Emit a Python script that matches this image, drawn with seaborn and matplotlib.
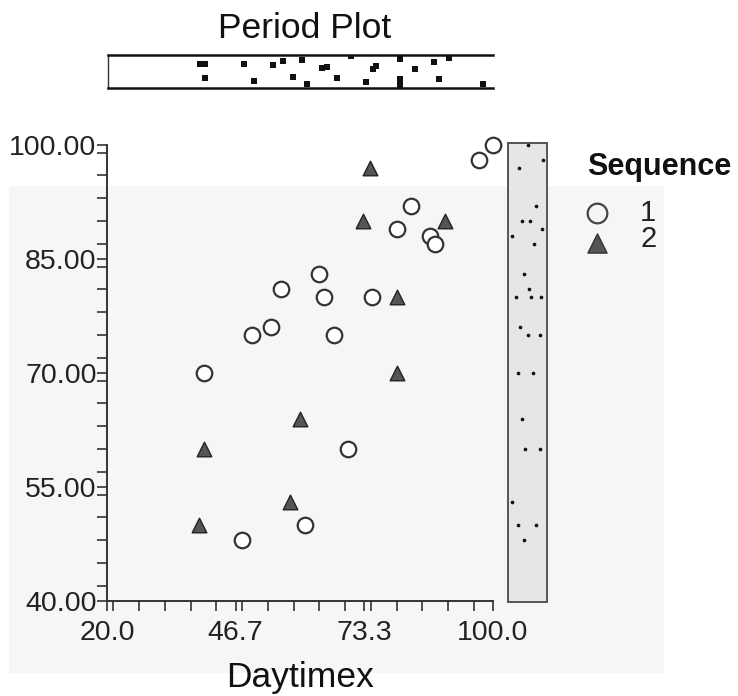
import numpy as np
import pandas as pd
import matplotlib
matplotlib.use("Agg")
import matplotlib.pyplot as plt
from matplotlib.patches import Rectangle
from matplotlib.ticker import FixedLocator, MultipleLocator
import seaborn as sns

# ---------------- data ----------------
seq1_x = [100, 97, 83, 80, 87, 88, 64, 56, 65, 75, 54, 50, 67, 40, 70, 61, 48]
seq1_y = [100, 98, 92, 89, 88, 87, 83, 81, 80, 80, 76, 75, 75, 70, 60, 50, 48]
seq2_x = [74.5, 73, 90, 80, 80, 60, 40, 58, 39]
seq2_y = [97, 90, 90, 80, 70, 64, 60, 53, 50]

# jitter read from the marginal strips (fraction across each strip)
seq1_side_jit = [0.50, 0.90, 0.71, 0.88, 0.11, 0.66, 0.41, 0.53, 0.21, 0.58, 0.30, 0.51, 0.83, 0.26, 0.43, 0.26, 0.41]
seq2_side_jit = [0.27, 0.36, 0.56, 0.85, 0.64, 0.36, 0.81, 0.09, 0.73]
seq1_top_jit = [0.50, 0.88, 0.43, 0.13, 0.20, 0.74, 0.40, 0.18, 0.35, 0.32, 0.30, 0.79, 0.71, 0.27, 0.02, 0.88, 0.28]
seq2_top_jit = [0.42, 0.81, 0.10, 0.73, 0.91, 0.15, 0.69, 0.68, 0.27]

x_ticks = [20.0, 46.667, 73.333, 100.0]
x_tick_labels = ["20.0", "46.7", "73.3", "100.0"]
y_ticks = [40, 55, 70, 85, 100]
y_tick_labels = ["40.00", "55.00", "70.00", "85.00", "100.00"]
sequences = ["1", "2"]

df = pd.DataFrame({
    "Daytimex": seq1_x + seq2_x,
    "Value": seq1_y + seq2_y,
    "Sequence": ["1"] * len(seq1_x) + ["2"] * len(seq2_x),
    "side_jit": seq1_side_jit + seq2_side_jit,
    "top_jit": seq1_top_jit + seq2_top_jit,
})

# ---------------- style ----------------
sns.set_style("white")
plt.rcParams["font.family"] = ["Liberation Sans", "DejaVu Sans"]

W, H = 738, 696
fig = plt.figure(figsize=(W / 100, H / 100), dpi=100, facecolor="white")


def px_axes(left, top, right, bottom, **kw):
    return fig.add_axes([left / W, 1 - bottom / H, (right - left) / W, (bottom - top) / H], **kw)


# faint scanned-paper background
fig.add_artist(Rectangle((8.5 / W, 1 - 673 / H), 655 / W, (673 - 186) / H,
                         transform=fig.transFigure, facecolor="#f6f6f6",
                         edgecolor="none", zorder=-10))

# ---------------- main scatter ----------------
ax = px_axes(107, 145, 493, 601)
ax.patch.set_alpha(0)
d1 = df[df.Sequence == "1"]
d2 = df[df.Sequence == "2"]
sns.scatterplot(data=d1, x="Daytimex", y="Value", ax=ax, marker="o", s=125,
                color="white", edgecolor="#333333", linewidth=1.6, zorder=3, clip_on=False)
sns.scatterplot(data=d2, x="Daytimex", y="Value", ax=ax, marker="^", s=110,
                color="#555555", edgecolor="#222222", linewidth=1.0, zorder=3, clip_on=False)
ax.set_xlim(20, 100)
ax.set_ylim(40, 100)
ax.xaxis.set_major_locator(FixedLocator(x_ticks))
ax.set_xticklabels(x_tick_labels)
ax.xaxis.set_minor_locator(MultipleLocator(80 / 15))
ax.yaxis.set_major_locator(FixedLocator(y_ticks))
ax.set_yticklabels(y_tick_labels)
ax.yaxis.set_minor_locator(MultipleLocator(3))
for s in ["top", "right"]:
    ax.spines[s].set_visible(False)
for s in ["left", "bottom"]:
    ax.spines[s].set_color("#333333")
    ax.spines[s].set_linewidth(1.4)
ax.tick_params(which="both", direction="out", length=7, width=1.2, color="#333333",
               bottom=True, left=True)
ax.tick_params(axis="x", which="major", labelsize=20.5, pad=6.5, labelcolor="#222222")
ax.tick_params(axis="y", which="major", labelsize=20.5, pad=0.5, labelcolor="#222222")
ax.set_ylabel("")
ax.set_xlabel("Daytimex", fontsize=25.5, color="#111111", labelpad=11)
if ax.get_legend() is not None:
    ax.get_legend().remove()

# ---------------- right marginal strip ----------------
axr = px_axes(508, 143, 547, 601.7)
axr.set_facecolor("#e6e6e6")
sns.scatterplot(data=df, x="side_jit", y="Value", ax=axr, color="#111111", s=7,
                linewidth=0, zorder=3)
axr.set_xlim(0, 1)
axr.set_ylim(39.9, 100.26)
axr.set_xticks([])
axr.set_yticks([])
axr.set_xlabel("")
axr.set_ylabel("")
for s in axr.spines.values():
    s.set_visible(True)
    s.set_color("#555555")
    s.set_linewidth(1.4)

# ---------------- top marginal strip ----------------
axt = px_axes(108, 55, 493, 88)
axt.patch.set_alpha(0)
sns.scatterplot(data=df, x="Daytimex", y="top_jit", ax=axt, color="#111111", s=14,
                marker="s", linewidth=0, zorder=3)
axt.set_xlim(20.2, 99.0)
axt.set_ylim(1.0, 0.0)
axt.set_xticks([])
axt.set_yticks([])
axt.set_xlabel("")
axt.set_ylabel("")
axt.spines["right"].set_visible(False)
for s in ["top", "bottom"]:
    axt.spines[s].set_color("#111111")
    axt.spines[s].set_linewidth(1.8)
axt.spines["left"].set_color("#333333")
axt.spines["left"].set_linewidth(1.0)

fig.text(305 / W, 1 - 37.5 / H, "Period Plot", ha="center", va="baseline",
         fontsize=25.5, color="#111111")

# ---------------- legend ----------------
axo = fig.add_axes([0, 0, 1, 1], zorder=5)
axo.set_xlim(0, W)
axo.set_ylim(H, 0)
axo.axis("off")
axo.patch.set_alpha(0)
axo.text(587, 175, "Sequence", fontsize=22, fontweight="bold", ha="left", va="baseline",
         color="#111111")
axo.scatter([597], [213], marker="o", s=200, facecolor="#f4f4f4", edgecolor="#444444",
            linewidth=1.6)
axo.scatter([597], [243], marker="^", s=190, facecolor="#555555", edgecolor="#333333",
            linewidth=1.0)
axo.text(640, 199, sequences[0] + "\n" + sequences[1], fontsize=21, ha="left", va="top",
         color="#222222", linespacing=0.92)

fig.savefig("out.png", dpi=100, facecolor="white")
